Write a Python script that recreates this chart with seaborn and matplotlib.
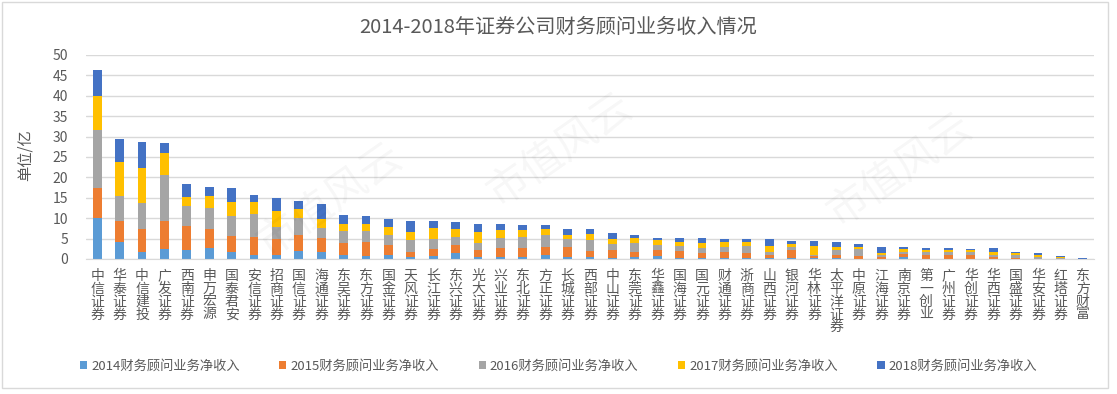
import numpy as np
import pandas as pd
import matplotlib
matplotlib.use('Agg')
import matplotlib.pyplot as plt
import matplotlib.patches as patches
import seaborn as sns

companies = ['中信证券', '华泰证券', '中信建投', '广发证券', '西南证券', '申万宏源', '国泰君安', '安信证券',
             '招商证券', '国信证券', '海通证券', '东吴证券', '东方证券', '国金证券', '天风证券', '长江证券',
             '东兴证券', '光大证券', '兴业证券', '东北证券', '方正证券', '长城证券', '西部证券', '中山证券',
             '东莞证券', '华鑫证券', '国海证券', '国元证券', '财通证券', '浙商证券', '山西证券', '银河证券',
             '华林证券', '太平洋证券', '中原证券', '江海证券', '南京证券', '第一创业', '广州证券', '华创证券',
             '华西证券', '国盛证券', '华安证券', '红塔证券', '东方财富']

v2014 = [10.1, 4.2, 1.8, 2.4, 2.3, 2.7, 1.6, 1.1, 1.1, 2.0, 1.6, 1.1, 0.7, 0.9, 0.5, 0.7, 1.4, 0.5, 0.5, 0.5,
         0.9, 0.4, 0.4, 0.3, 0.4, 0.7, 0.3, 0.3, 0.3, 0.3, 0.2, 0.2, 0.2, 0.2, 0.1, 0.05, 0.4, 0.1, 0.05, 0.05,
         0.05, 0.05, 0.02, 0.02, 0.0]
v2015 = [7.4, 5.2, 5.6, 6.9, 5.9, 4.7, 4.0, 4.4, 3.7, 3.9, 3.6, 2.8, 3.5, 2.5, 1.3, 1.8, 2.0, 1.8, 2.2, 2.2,
         2.1, 2.5, 1.6, 2.0, 1.4, 1.5, 1.7, 1.1, 1.5, 1.2, 0.9, 2.1, 0.6, 0.8, 0.6, 0.4, 0.8, 1.0, 0.85, 0.9,
         0.45, 0.15, 0.1, 0.05, 0.0]
v2016 = [14.0, 6.1, 6.3, 11.3, 4.7, 5.0, 5.0, 5.5, 3.0, 4.2, 2.5, 3.0, 2.7, 2.6, 2.9, 2.4, 1.9, 1.6, 2.5, 2.7,
         2.8, 2.0, 2.7, 1.4, 2.1, 1.2, 1.3, 1.2, 1.2, 1.8, 0.7, 0.7, 0.3, 1.2, 1.8, 0.6, 0.6, 0.7, 0.7, 0.7,
         0.6, 0.9, 0.45, 0.2, 0.0]
v2017 = [8.5, 8.3, 8.6, 5.5, 2.4, 3.1, 3.4, 3.0, 4.0, 2.2, 2.1, 1.7, 1.7, 1.8, 1.9, 2.6, 2.0, 2.6, 1.9, 1.7,
         1.5, 1.1, 1.5, 1.2, 1.3, 1.3, 0.8, 1.2, 1.2, 0.8, 1.3, 0.7, 2.1, 0.8, 0.5, 0.4, 0.7, 0.3, 0.6, 0.5,
         0.7, 0.3, 0.4, 0.15, 0.02]
v2018 = [6.4, 5.6, 6.4, 2.3, 3.1, 2.1, 3.3, 1.8, 3.2, 1.9, 3.7, 2.1, 1.9, 2.0, 2.8, 1.7, 1.8, 2.1, 1.5, 1.2,
         1.1, 1.3, 1.1, 1.4, 0.8, 0.4, 1.0, 1.3, 0.8, 0.9, 1.7, 0.6, 1.1, 1.2, 0.7, 1.6, 0.5, 0.7, 0.6, 0.3,
         0.8, 0.3, 0.4, 0.25, 0.25]

series = ['2014财务顾问业务净收入', '2015财务顾问业务净收入', '2016财务顾问业务净收入',
          '2017财务顾问业务净收入', '2018财务顾问业务净收入']
colors = ['#5B9BD5', '#ED7D31', '#A5A5A5', '#FFC000', '#4472C4']

sns.set_style('white')
plt.rcParams['font.family'] = ['Noto Sans CJK SC', 'DejaVu Sans']

df = pd.DataFrame(dict(zip(series, [v2014, v2015, v2016, v2017, v2018])), index=companies)
cum = df.cumsum(axis=1)

W, H = 1117, 394
fig = plt.figure(figsize=(W / 100, H / 100), dpi=100)
ax = fig.add_axes([86 / W, 1 - 259 / H, 1008 / W, 204 / H])

# stacked bars: draw cumulative totals from the top layer down
for name, col in reversed(list(zip(series, colors))):
    sns.barplot(x=companies, y=cum[name].values, order=companies, color=col,
                width=0.4, saturation=1, ax=ax, edgecolor='none')

ax.set_ylim(0, 50)
ax.set_xlim(-0.5, len(companies) - 0.5)
ax.set_yticks(range(0, 51, 5))
ax.yaxis.grid(True, color='#d9d9d9', lw=1)
ax.set_axisbelow(True)
for s in ['top', 'right', 'left']:
    ax.spines[s].set_visible(False)
ax.spines['bottom'].set_color('#d9d9d9')
ax.set_xticks(range(len(companies)))
ax.set_xticklabels(['\n'.join(c) for c in companies], rotation=0, va='top', linespacing=0.9)
ax.tick_params(axis='y', length=0, pad=13, labelsize=10, labelcolor='#595959')
ax.tick_params(axis='x', length=0, pad=7, labelsize=10, labelcolor='#595959')
ax.set_xlabel('')
ax.set_ylabel('')

fig.text(0.5, 1 - 27 / H, '2014-2018年证券公司财务顾问业务收入情况', ha='center', va='center',
         fontsize=14.5, color='#595959')
fig.text(25 / W, 1 - 155 / H, '单位/亿', rotation=90, ha='center', va='center',
         fontsize=11, color='#595959')

handles = [patches.Patch(facecolor=c, edgecolor='none', label=s) for s, c in zip(series, colors)]
fig.legend(handles=handles, loc='center', bbox_to_anchor=(0.5, 1 - 366 / H), ncol=5, frameon=False,
           fontsize=9.5, handlelength=0.55, handleheight=0.55, handletextpad=0.3, columnspacing=3.0,
           labelcolor='#595959')

# faint watermarks
for (x, y) in [(560, 150), (900, 170), (330, 200)]:
    fig.text(x / W, 1 - y / H, '市值风云', rotation=35, ha='center', va='center', fontsize=30,
             color='#000000', alpha=0.035)

fig.add_artist(patches.Rectangle((2 / W, 1 - 388 / H), 1106 / W, 386 / H, transform=fig.transFigure,
                                 fill=False, edgecolor='#d9d9d9', lw=1))

fig.savefig('out.png', dpi=100)
